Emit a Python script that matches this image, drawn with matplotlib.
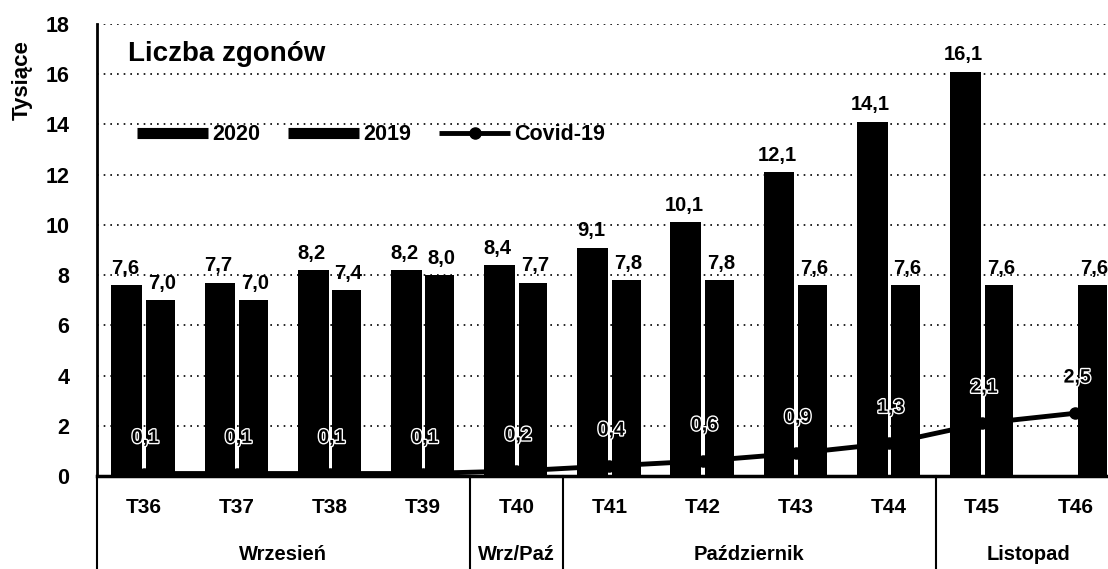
import matplotlib
matplotlib.use("Agg")
import matplotlib.pyplot as plt
import matplotlib.patheffects as pe
from matplotlib.lines import Line2D
import numpy as np

weeks = ["T36", "T37", "T38", "T39", "T40", "T41", "T42", "T43", "T44", "T45", "T46"]
deaths_2020 = [7.6, 7.7, 8.2, 8.2, 8.4, 9.1, 10.1, 12.1, 14.1, 16.1, np.nan]
deaths_2019 = [7.0, 7.0, 7.4, 8.0, 7.7, 7.8, 7.8, 7.6, 7.6, 7.6, 7.6]
covid = [0.1, 0.1, 0.1, 0.1, 0.2, 0.4, 0.6, 0.9, 1.3, 2.1, 2.5]
months = ["Wrzesień", "Wrz/Paź", "Październik", "Listopad"]
month_spans = [(0, 3), (4, 4), (5, 8), (9, 10)]

plt.rcParams["font.family"] = ["Liberation Sans", "DejaVu Sans"]
plt.rcParams["font.weight"] = "bold"

fig = plt.figure(figsize=(11.08, 5.69), dpi=100)
ax = fig.add_axes([0.0875, 0.1634, 0.9125, 0.7944])

x = np.arange(len(weeks))
ax.bar(x - 0.18, deaths_2020, width=0.33, color="black", zorder=3)
ax.bar(x + 0.18, deaths_2019, width=0.31, color="black", zorder=3)
ax.plot(x, covid, color="black", lw=3.5, marker="o", ms=8, zorder=4)

def fmt(v):
    return f"{v:.1f}".replace(".", ",")

for i in range(len(weeks)):
    if not np.isnan(deaths_2020[i]):
        ax.text(x[i] - 0.2, deaths_2020[i] + 0.3, fmt(deaths_2020[i]), ha="center",
                va="bottom", fontsize=14.5, fontweight="bold", zorder=5)
    ax.text(x[i] + 0.2, deaths_2019[i] + 0.3, fmt(deaths_2019[i]), ha="center",
            va="bottom", fontsize=14.5, fontweight="bold", zorder=5)
    ax.text(x[i] + 0.02, covid[i] + 1.4, fmt(covid[i]), ha="center", va="center",
            fontsize=14, fontweight="bold", zorder=6,
            path_effects=[pe.withStroke(linewidth=2, foreground="white")])

ax.set_xlim(-0.5, 10.35)
ax.set_ylim(0, 18)
ax.set_yticks(np.arange(0, 19, 2))
ax.tick_params(axis="y", labelsize=15.5, length=0, pad=20)
ax.set_xticks([])
for lab in ax.get_yticklabels():
    lab.set_fontweight("bold")
ax.yaxis.grid(True, linestyle=(0, (1, 3)), color="black", lw=1.2, zorder=0)
ax.set_axisbelow(True)
for s in ["top", "right"]:
    ax.spines[s].set_visible(False)
ax.spines["left"].set_linewidth(2)
ax.spines["bottom"].set_linewidth(2.5)

trans = ax.get_xaxis_transform()
for i, wk in enumerate(weeks):
    ax.text(x[i], -0.07, wk, transform=trans, ha="center", va="center",
            fontsize=15, fontweight="bold")
for name, (a, b) in zip(months, month_spans):
    ax.text((a + b) / 2, -0.173, name, transform=trans, ha="center", va="center",
            fontsize=14.5, fontweight="bold")
for bnd in [-0.5, 3.5, 4.5, 8.5]:
    ax.plot([bnd, bnd], [0, -0.21], transform=trans, color="black", lw=1.5,
            clip_on=False)

ax.text(-0.17, 16.8, "Liczba zgonów", fontsize=20, fontweight="bold", va="center")
handles = [Line2D([], [], color="black", lw=8, solid_capstyle="butt"),
           Line2D([], [], color="black", lw=8, solid_capstyle="butt"),
           Line2D([], [], color="black", lw=3.5, marker="o", ms=8,
                  solid_capstyle="butt")]
ax.legend(handles, ["2020", "2019", "Covid-19"], ncol=3, frameon=False,
          loc="center left", bbox_to_anchor=(0.02, 0.755),
          handlelength=3.3, columnspacing=1.3, handletextpad=0.2,
          prop={"weight": "bold", "size": 15.5})

fig.text(0.02, 0.86, "Tysiące", rotation=90, ha="center", va="center",
         fontsize=16, fontweight="bold")

fig.savefig("out.png", dpi=100)
